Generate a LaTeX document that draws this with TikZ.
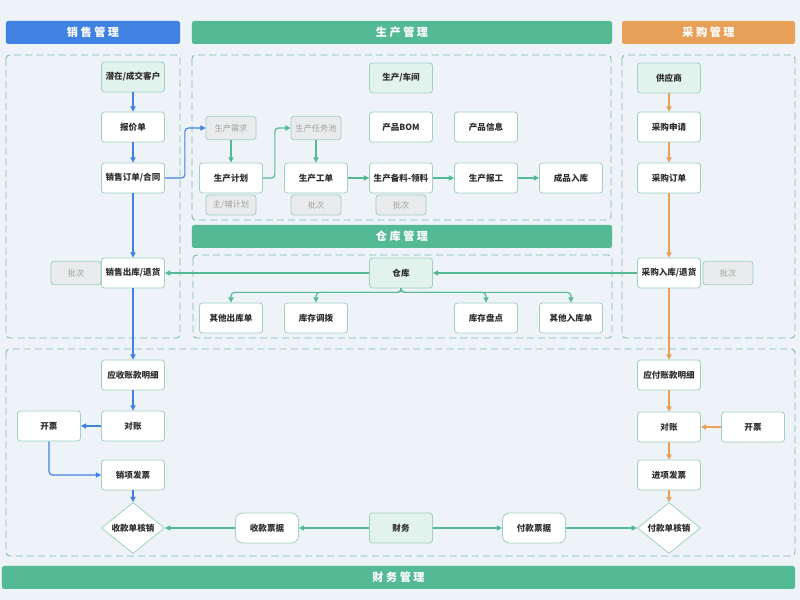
\documentclass[tikz,border=0pt]{standalone}
\usepackage{fontspec}
\setmainfont{Noto Sans CJK SC}
\usetikzlibrary{arrows.meta,shapes.geometric}

\definecolor{pagebg}{RGB}{238,243,248}
\definecolor{salesblue}{RGB}{64,130,226}
\definecolor{prodgreen}{RGB}{84,186,150}
\definecolor{purchorange}{RGB}{231,160,88}
\definecolor{boxline}{RGB}{160,208,194}
\definecolor{boxtint}{RGB}{226,243,238}
\definecolor{zoneline}{RGB}{128,184,168}
\definecolor{batchfill}{RGB}{234,235,236}
\definecolor{batchtext}{RGB}{160,160,160}
\definecolor{textdark}{RGB}{45,45,45}

\tikzset{
  box/.style={draw=boxline, fill=white, rounded corners=2.5pt, line width=0.7pt,
    minimum width=1.89cm, minimum height=0.9cm, inner sep=1pt,
    font=\fontsize{7.3}{8}\selectfont\bfseries, text=textdark},
  tintbox/.style={box, fill=boxtint},
  billbox/.style={box, rounded corners=6pt},
  batchbox/.style={box, fill=batchfill, minimum width=1.5cm, minimum height=0.7cm,
    font=\fontsize{7}{8}\selectfont, text=batchtext},
  checkbox/.style={diamond, draw=boxline, fill=white, line width=0.7pt,
    minimum width=1.9cm, minimum height=1.2cm, inner sep=0pt,
    font=\fontsize{7.3}{8}\selectfont\bfseries, text=textdark},
  header/.style={rounded corners=2pt, minimum height=0.69cm, inner sep=0pt,
    text=white, font=\fontsize{9.5}{10}\selectfont\bfseries},
  zone/.style={draw=zoneline, dash pattern=on 6pt off 3.5pt, line width=0.8pt, rounded corners=3pt},
  flow/.style={line width=1pt, rounded corners=3pt, -{Triangle[length=4.5pt,width=4.5pt]}},
  blueflow/.style={flow, salesblue},
  greenflow/.style={flow, prodgreen},
  orangeflow/.style={flow, purchorange},
}

\begin{document}
\begin{tikzpicture}[x=0.03cm,y=-0.03cm]
% page
\fill[pagebg] (0,0) rectangle (800,600);
\useasboundingbox (0,0) rectangle (800,600);

% headers
\node[header, fill=salesblue, minimum width=5.22cm] (hsales) at (93,32.5) {销 售 管 理};
\node[header, fill=prodgreen, minimum width=12.6cm] (hprod) at (402,32.5) {生 产 管 理};
\node[header, fill=purchorange, minimum width=5.19cm] (hpurch) at (708.5,32.5) {采 购 管 理};
\node[header, fill=prodgreen, minimum width=12.6cm] (hstore) at (402,236.5) {仓 库 管 理};
\node[header, fill=prodgreen, minimum width=23.79cm] (hfin) at (398.5,577.5) {财 务 管 理};

% dashed zones
\draw[zone] (6,55) rectangle (180,338);
\draw[zone] (192,55) rectangle (611,220);
\draw[zone] (193,255) rectangle (612,338);
\draw[zone] (622,55) rectangle (795,338);
\draw[zone] (6,349) rectangle (795,556);

% sales column
\node[tintbox] (client) at (133,77) {潜在/成交客户};
\node[box] (quote) at (133,127) {报价单};
\node[box] (order) at (133,178) {销售订单/合同};
\node[box] (sout) at (133,273) {销售出库/退货};
\node[batchbox] (sbatch) at (76,273) {批次};
\node[box] (recv) at (133,375) {应收账款明细};
\node[box] (scheck) at (133,426) {对账};
\node[box] (sinv) at (49,426) {开票};
\node[box] (outinv) at (133,475) {销项发票};
\node[checkbox] (rclose) at (133,528) {收款单核销};

% production
\node[batchbox] (need) at (231,128) {生产需求};
\node[batchbox] (pool) at (316,128) {生产任务池};
\node[box] (plan) at (231,178) {生产计划};
\node[box] (work) at (316,178) {生产工单};
\node[tintbox] (shop) at (401,78) {生产/车间};
\node[box] (bom) at (401,127) {产品BOM};
\node[box] (info) at (486,127) {产品信息};
\node[box] (pick) at (401,178) {生产备料-领料};
\node[box] (report) at (486,178) {生产报工};
\node[box] (done) at (571,178) {成品入库};
\node[batchbox, minimum height=0.6cm] (mainplan) at (231,205) {主/辅计划};
\node[batchbox, minimum height=0.6cm] (wbatch) at (316,205) {批次};
\node[batchbox, minimum height=0.6cm] (pbatch) at (401,205) {批次};

% warehouse
\node[tintbox] (store) at (401,273) {仓库};
\node[box] (otherout) at (231,318) {其他出库单};
\node[box] (move) at (316,318) {库存调拨};
\node[box] (count) at (486,318) {库存盘点};
\node[box] (otherin) at (571,318) {其他入库单};

% purchase column
\node[tintbox] (supplier) at (669,78) {供应商};
\node[box] (apply) at (669,127) {采购申请};
\node[box] (porder) at (669,178) {采购订单};
\node[box] (pin) at (669,273) {采购入库/退货};
\node[batchbox] (inbatch) at (728,273) {批次};
\node[box] (pay) at (669,375) {应付账款明细};
\node[box] (pcheck) at (669,427) {对账};
\node[box] (pinv) at (753,427) {开票};
\node[box] (ininv) at (669,475) {进项发票};
\node[checkbox] (pclose) at (669,528) {付款单核销};

% finance
\node[tintbox] (fin) at (401,528) {财务};
\node[billbox] (rbill) at (267,528) {收款票据};
\node[billbox] (pbill) at (534,528) {付款票据};

% sales flow
\draw[blueflow] (client) -- (quote);
\draw[blueflow] (quote) -- (order);
\draw[blueflow] (order) -- (sout);
\draw[blueflow] (sout) -- (recv);
\draw[blueflow] (recv) -- (scheck);
\draw[blueflow] (scheck) -- (sinv);
\draw[blueflow] (sinv.south) |- (outinv.west);
\draw[blueflow] (outinv) -- (rclose);
\draw[blueflow] (order.east) -- ++(20,0) |- (need.west);

% production flow
\draw[greenflow] (need) -- (plan);
\draw[greenflow] (plan.east) -- ++(12,0) |- (pool.west);
\draw[greenflow] (pool) -- (work);
\draw[greenflow] (work) -- (pick);
\draw[greenflow] (pick) -- (report);
\draw[greenflow] (report) -- (done);

% warehouse flow
\draw[greenflow] (pin) -- (store);
\draw[greenflow] (store) -- (sout);
\foreach \t in {otherout,move,count,otherin}
  \draw[greenflow] (store.south) -- ++(0,4) -| (\t.north);

% purchase flow
\draw[orangeflow] (supplier) -- (apply);
\draw[orangeflow] (apply) -- (porder);
\draw[orangeflow] (porder) -- (pin);
\draw[orangeflow] (pin) -- (pay);
\draw[orangeflow] (pay) -- (pcheck);
\draw[orangeflow] (pinv) -- (pcheck);
\draw[orangeflow] (pcheck) -- (ininv);
\draw[orangeflow] (ininv) -- (pclose);

% finance flow
\draw[greenflow] (fin) -- (rbill);
\draw[greenflow] (rbill) -- (rclose);
\draw[greenflow] (fin) -- (pbill);
\draw[greenflow] (pbill) -- (pclose);
\end{tikzpicture}
\end{document}
